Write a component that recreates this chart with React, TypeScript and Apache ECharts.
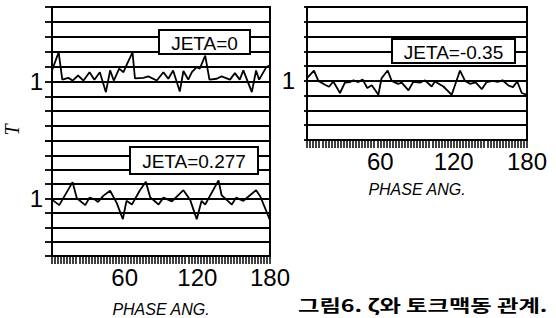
import React, { useEffect, useRef } from 'react';
import * as echarts from 'echarts';

const FONT = '"Liberation Sans", Arial, Helvetica, sans-serif';

// JETA = 0 (top-left panel)
const jeta0X = [0, 5.5, 8.5, 13.5, 17, 21.5, 26, 31, 35, 39.5, 44.5, 48, 51, 55.5, 59, 62, 66.5, 68.5, 75.5, 79.5, 86.5, 92, 96, 100, 105.5, 108.5, 112.5, 115.5, 119.5, 122, 126.5, 130, 136, 140, 147, 151, 155, 158, 165, 168.5, 171, 177, 180];
const jeta0Y = [1.037, 1.098, 1.006, 1.012, 1.003, 1.020, 1.003, 1.031, 1.006, 1.031, 0.964, 1.037, 1.003, 1.043, 1.031, 1.059, 1.098, 1.010, 1.012, 1.017, 1.003, 1.031, 1.009, 1.037, 0.966, 1.035, 1.006, 1.031, 1.048, 1.043, 1.087, 1.006, 1.009, 1.017, 1.006, 1.028, 1.006, 1.037, 0.964, 1.037, 1.006, 1.048, 1.054];

// JETA = 0.277 (bottom-left panel)
const jeta277X = [0, 6, 17, 20.5, 27.5, 31, 35.5, 38, 42.5, 48, 53.5, 58.5, 61.5, 66, 72.5, 77.5, 81, 88, 92, 99, 108.5, 114, 119.5, 123.5, 126.5, 137.5, 140, 148.5, 152, 158, 168.5, 172, 180];
const jeta277Y = [0.996, 0.977, 1.057, 1.001, 0.977, 1.003, 0.996, 0.988, 1.010, 1.027, 0.984, 0.928, 0.992, 0.979, 1.028, 1.058, 1.005, 0.979, 1.003, 0.990, 1.029, 0.996, 0.928, 0.992, 0.979, 1.063, 1.012, 0.979, 1.003, 0.992, 1.029, 1.007, 0.925];

// JETA = -0.35 (right panel)
const jeta035X = [0, 5.7, 9.3, 14.7, 18, 21.5, 27, 31, 35, 38, 42, 45.5, 49.3, 53, 58.4, 61, 66, 69.3, 74.5, 77.5, 83, 87, 92.4, 96.5, 102, 104.6, 111.6, 118.4, 125.2, 129.3, 133.4, 138, 143, 147, 152, 156, 160, 165, 168.5, 172, 175.7, 180];
const jeta035Y = [1.009, 1.035, 1.0, 0.987, 0.980, 0.998, 0.959, 0.994, 0.996, 1.002, 0.996, 1.005, 0.976, 0.985, 0.953, 1.009, 1.035, 1.0, 0.990, 0.994, 0.968, 0.997, 0.994, 1.002, 0.981, 0.998, 0.981, 0.953, 1.035, 1.0, 0.990, 0.995, 0.972, 0.996, 1.0, 0.997, 1.002, 0.984, 0.979, 0.998, 0.959, 0.953];

const labels = ['JETA=0', 'JETA=0.277', 'JETA=-0.35'];
const yLabelValue = 1;
const xName = 'PHASE ANG.';
const yName = 'T';
const caption = '그림6. ζ와 토크맥동 관계.';

const pairs = (xs: number[], ys: number[]) => xs.map((x, i) => [x, ys[i]]);

const yAxisCfg = (gridIndex: number, max: number, margin: number, tickLen: number) => ({
  type: 'value',
  gridIndex,
  min: 0.8,
  max,
  interval: 0.05,
  axisLine: { show: true, lineStyle: { color: '#000', width: 2 } },
  axisTick: { show: true, inside: false, length: tickLen, lineStyle: { color: '#000', width: 1.8 } },
  axisLabel: {
    show: true,
    margin,
    fontSize: 24,
    color: '#000',
    fontFamily: FONT,
    formatter: (v: number) => (Math.abs(v - yLabelValue) < 1e-6 ? String(yLabelValue) : ''),
  },
  splitLine: { show: true, lineStyle: { color: '#000', width: 1.8 } },
});

const xAxisCfg = (gridIndex: number, show: boolean, nameGap: number) => ({
  type: 'value',
  gridIndex,
  min: 0,
  max: 180,
  interval: 60,
  axisLine: { show: true, lineStyle: { color: '#000', width: 2 } },
  axisTick: { show, inside: false, length: 8, lineStyle: { color: '#000', width: 1.5 } },
  minorTick: { show, splitNumber: 24, length: 8, lineStyle: { color: '#000', width: 1.5 } },
  axisLabel: {
    show,
    margin: 9,
    fontSize: 24,
    color: '#000',
    fontFamily: FONT,
    showMaxLabel: true,
    formatter: (v: number) => (v === 0 ? '' : String(v)),
  },
  splitLine: { show: false },
  name: show ? xName : '',
  nameLocation: 'middle',
  nameGap,
  nameTextStyle: { fontStyle: 'italic', fontSize: 16, color: '#000', fontFamily: FONT },
});

const lineSeries = (data: number[][], idx: number) => ({
  type: 'line',
  xAxisIndex: idx,
  yAxisIndex: idx,
  data,
  showSymbol: false,
  symbol: 'none',
  lineStyle: { color: '#000', width: 1.8 },
  z: 5,
});

const labelBox = (x: number, y: number, w: number, h: number, text: string) => ({
  type: 'group',
  z: 100,
  children: [
    { type: 'rect', shape: { x, y, width: w, height: h }, style: { fill: '#fff', stroke: '#000', lineWidth: 2 }, z: 100 },
    {
      type: 'text',
      x: x + w / 2,
      y: y + h / 2 + 1,
      z: 101,
      style: { text, fontSize: 19, fontFamily: FONT, fill: '#000', align: 'center', verticalAlign: 'middle' },
    },
  ],
});

export default function App() {
  const ref = useRef<HTMLDivElement>(null);
  useEffect(() => {
    if (!ref.current) return;
    const chart = echarts.init(ref.current, null, { renderer: 'svg' });
    chart.setOption({
      animation: false,
      backgroundColor: '#fff',
      grid: [
        { left: 52, top: 7, width: 218, height: 134, show: true, borderColor: '#000', borderWidth: 2, backgroundColor: 'transparent' },
        { left: 52, top: 141, width: 218, height: 119, show: true, borderColor: '#000', borderWidth: 2, backgroundColor: 'transparent' },
        { left: 307, top: 7, width: 220, height: 133, show: true, borderColor: '#000', borderWidth: 2, backgroundColor: 'transparent' },
      ],
      xAxis: [xAxisCfg(0, false, 40), xAxisCfg(1, true, 45), xAxisCfg(2, true, 41)],
      yAxis: [yAxisCfg(0, 1.25, 9, 7), yAxisCfg(1, 1.2, 9, 7), yAxisCfg(2, 1.25, 12, 3)],
      series: [
        lineSeries(pairs(jeta0X, jeta0Y), 0),
        lineSeries(pairs(jeta277X, jeta277Y), 1),
        lineSeries(pairs(jeta035X, jeta035Y), 2),
      ],
      graphic: [
        labelBox(159, 30, 91, 24, labels[0]),
        labelBox(130, 147, 128, 27, labels[1]),
        labelBox(392, 39, 123, 24, labels[2]),
        {
          type: 'text',
          x: 12,
          y: 130,
          rotation: Math.PI / 2,
          z: 100,
          style: { text: yName, fontSize: 20, fontStyle: 'italic', fontFamily: '"Liberation Serif", serif', fill: '#000', align: 'center', verticalAlign: 'middle' },
        },
        {
          type: 'text',
          x: 298,
          y: 304,
          scaleX: 1.37,
          z: 100,
          style: { text: caption, fontSize: 17, fontWeight: 'bold', fontFamily: '"Noto Sans CJK KR", sans-serif', fill: '#000', align: 'left', verticalAlign: 'middle' },
        },
      ],
    });
    return () => chart.dispose();
  }, []);
  return <div ref={ref} style={{ position: 'fixed', left: 0, top: 0, width: 556, height: 318, background: '#fff' }} />;
}
